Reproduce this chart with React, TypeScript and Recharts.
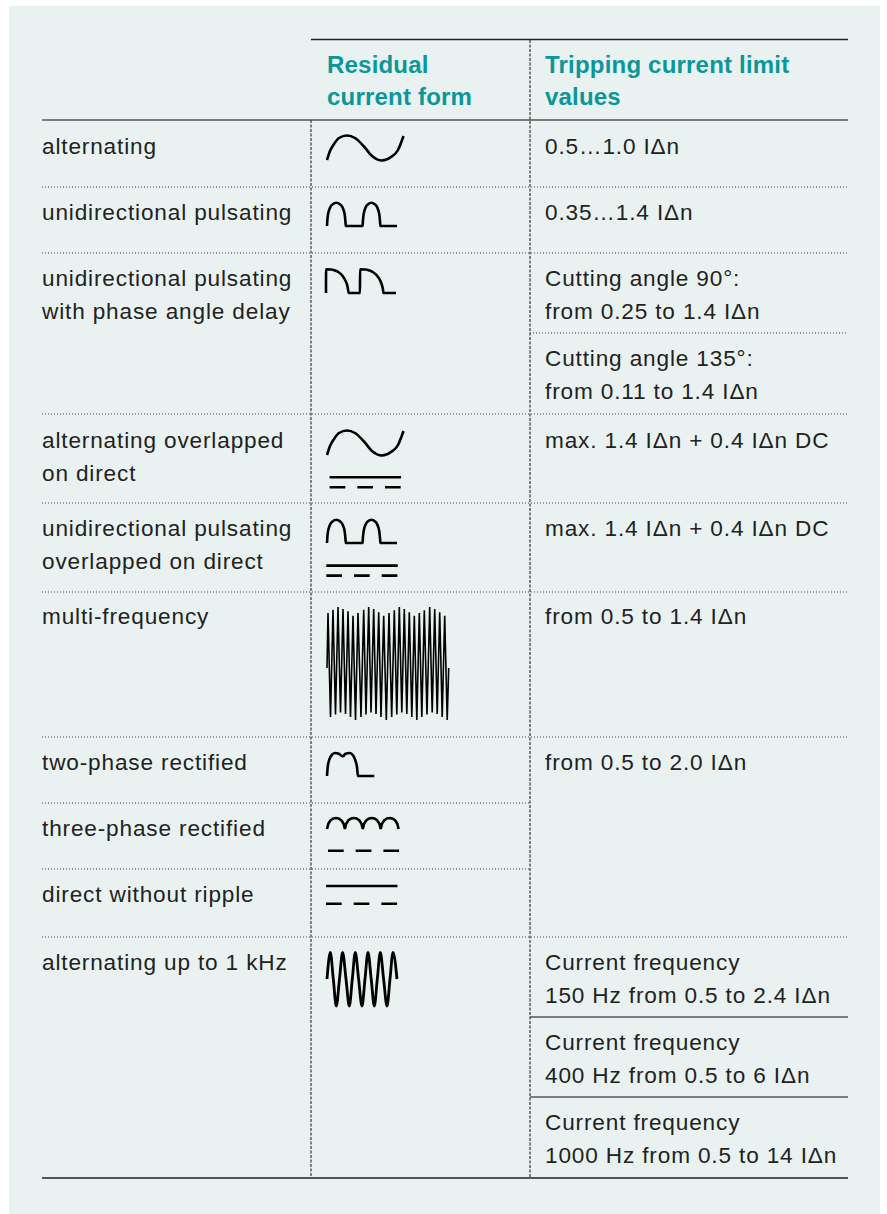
import React from "react";
import { LineChart, Line, XAxis, YAxis } from "recharts";

type Pt = { t: number; v: number };

// ---- table text ----
const formHeader = ["Residual", "current form"];
const limitHeader = ["Tripping current limit", "values"];

const formLabels = [
  ["alternating"],
  ["unidirectional pulsating"],
  ["unidirectional pulsating", "with phase angle delay"],
  ["alternating overlapped", "on direct"],
  ["unidirectional pulsating", "overlapped on direct"],
  ["multi-frequency"],
  ["two-phase rectified"],
  ["three-phase rectified"],
  ["direct without ripple"],
  ["alternating up to 1 kHz"],
];

const limitLabels = [
  ["0.5…1.0 IΔn"],
  ["0.35…1.4 IΔn"],
  ["Cutting angle 90°:", "from 0.25 to 1.4 IΔn"],
  ["Cutting angle 135°:", "from 0.11 to 1.4 IΔn"],
  ["max. 1.4 IΔn + 0.4 IΔn DC"],
  ["max. 1.4 IΔn + 0.4 IΔn DC"],
  ["from 0.5 to 1.4 IΔn"],
  ["from 0.5 to 2.0 IΔn"],
  ["Current frequency", "150 Hz from 0.5 to 2.4 IΔn"],
  ["Current frequency", "400 Hz from 0.5 to 6 IΔn"],
  ["Current frequency", "1000 Hz from 0.5 to 14 IΔn"],
];

// ---- waveform symbols (t = time in px, v = amplitude in px) ----
const sineWave: Pt[] = [
  { t: 0, v: -12 }, { t: 3, v: -3 }, { t: 7, v: 4 }, { t: 12, v: 10 },
  { t: 20, v: 12.5 }, { t: 28, v: 10 }, { t: 37, v: 1.5 }, { t: 45, v: -8 },
  { t: 55, v: -12.5 }, { t: 64, v: -9 }, { t: 71, v: -2 }, { t: 76.5, v: 12 },
];

const pulseWave: Pt[] = [
  { t: 0, v: 0 }, { t: 0.3, v: 5 }, { t: 1, v: 11.5 }, { t: 2.7, v: 17.5 },
  { t: 4.7, v: 20.8 }, { t: 9.3, v: 23.3 }, { t: 14, v: 20.8 }, { t: 16, v: 17.5 },
  { t: 17.7, v: 11.5 }, { t: 18.4, v: 5 }, { t: 18.8, v: 0 },
  { t: 35.6, v: 0 }, { t: 35.9, v: 5 }, { t: 36.6, v: 11.5 }, { t: 38.2, v: 17.5 },
  { t: 40, v: 20.8 }, { t: 44.4, v: 23.3 }, { t: 48.8, v: 20.8 }, { t: 50.7, v: 17.5 },
  { t: 52.3, v: 11.5 }, { t: 53, v: 5 }, { t: 53.4, v: 0 },
  { t: 70, v: 0 },
];

const phaseWave: Pt[] = [
  { t: 0, v: 0 }, { t: 0.05, v: 23.7 }, { t: 5, v: 23.5 }, { t: 9, v: 22.5 },
  { t: 12.3, v: 21 }, { t: 15, v: 18.8 }, { t: 17.3, v: 16 }, { t: 19.2, v: 12.8 },
  { t: 20.7, v: 9.3 }, { t: 21.8, v: 5 }, { t: 22.7, v: 0 },
  { t: 34, v: 0 }, { t: 34.05, v: 23.7 }, { t: 39.2, v: 23.5 }, { t: 43.4, v: 22.5 },
  { t: 46.8, v: 21 }, { t: 49.6, v: 18.8 }, { t: 52, v: 16 }, { t: 54, v: 12.8 },
  { t: 55.5, v: 9.3 }, { t: 56.7, v: 5 }, { t: 57.6, v: 0 },
  { t: 70, v: 0 },
];

const multiTimes = [
  0, 1, 3.5, 6, 8.5, 11, 13.5, 16, 18.5, 21, 23.5, 26, 28.5, 31, 34, 36.7, 39, 41.7,
  44, 46.7, 49, 51.7, 54, 56.7, 59.3, 62, 64.7, 67.3, 69.8, 72.3, 74.8, 77.3, 79.8,
  82.3, 84.8, 87.3, 89.8, 92.3, 94.8, 97.3, 100, 102.7, 105.2, 107.7, 110.2, 112.7,
  115.2, 117.7, 120.2, 121.7,
];
const multiValues = [
  0, 55, -49, 58.3, -46.5, 61, -44.5, 59, -46, 56.7, -49, 52.3, -52, 55, -49, 58.3,
  -46.5, 61, -44.5, 59, -46, 55.7, -49, 52.3, -52, 55, -49, 57.7, -46.5, 61, -44.5,
  59, -46, 55.7, -49, 52.3, -52, 55, -49, 57.7, -46.5, 61, -44.5, 59, -46, 55.7, -49,
  52.3, -52, 0,
];

const twoPhaseWave: Pt[] = [
  { t: 0, v: 0 }, { t: 0.7, v: 9 }, { t: 2.3, v: 16.3 }, { t: 5, v: 21.3 },
  { t: 8.3, v: 23 }, { t: 11.7, v: 22.3 }, { t: 16, v: 19.7 }, { t: 18.5, v: 22.3 },
  { t: 22.7, v: 23 }, { t: 26, v: 20.7 }, { t: 28.3, v: 15.7 }, { t: 30, v: 9 },
  { t: 31, v: 0 }, { t: 47.3, v: 0 },
];

const threePhaseWave: Pt[] = [
  { t: 0, v: 0 }, { t: 1.4, v: 5.5 }, { t: 3.6, v: 8.8 }, { t: 6.3, v: 10.6 },
  { t: 8.95, v: 11 }, { t: 11.6, v: 10.6 }, { t: 14.3, v: 8.8 }, { t: 16.5, v: 5.5 },
  { t: 17.9, v: 0 }, { t: 19.3, v: 5.5 }, { t: 21.5, v: 8.8 }, { t: 24.2, v: 10.6 },
  { t: 26.85, v: 11 }, { t: 29.5, v: 10.6 }, { t: 32.2, v: 8.8 }, { t: 34.4, v: 5.5 },
  { t: 35.8, v: 0 }, { t: 37.2, v: 5.5 }, { t: 39.4, v: 8.8 }, { t: 42.1, v: 10.6 },
  { t: 44.75, v: 11 }, { t: 47.4, v: 10.6 }, { t: 50.1, v: 8.8 }, { t: 52.3, v: 5.5 },
  { t: 53.7, v: 0 }, { t: 55.1, v: 5.5 }, { t: 57.3, v: 8.8 }, { t: 60, v: 10.6 },
  { t: 62.65, v: 11 }, { t: 65.3, v: 10.6 }, { t: 68, v: 8.8 }, { t: 70.2, v: 5.5 },
  { t: 71.6, v: 0 },
];

const kHzTimes = [
  0, 3.3, 6.3, 9.3, 12.5, 15.6, 19, 22.3, 25.3, 28.3, 31.6, 35, 38, 41, 44.2, 47.3,
  50.3, 53.3, 56.6, 60, 63, 66, 70,
];
const kHzValues = [
  0, 26.5, 0, -27, 0, 26.5, 0, -27, 0, 26.5, 0, -27, 0, 26.5, 0, -27, 0, 26.5, 0, -27,
  0, 26.5, 0,
];

const dcLine: Pt[] = [{ t: 0, v: 0 }, { t: 71.5, v: 0 }];

const multiWave: Pt[] = multiTimes.map((t, i) => ({ t, v: multiValues[i] }));
const kHzWave: Pt[] = kHzTimes.map((t, i) => ({ t, v: kHzValues[i] }));

// ---- layout ----
const FONT = "'Liberation Sans', Arial, Helvetica, sans-serif";
const TEXT = "#222";
const TEAL = "#0a979a";
const LINE_GAP = 33;
const COL1_X = 42;
const COL2_X = 327;
const COL3_X = 545;
const LEFT = 42;
const MID1 = 311;
const MID2 = 530;
const RIGHT = 848;

const formBaselines = [154, 220, 286, 448, 536, 624, 770, 836, 902, 970];
const limitBaselines = [154, 220, 286, 366, 448, 536, 624, 770, 970, 1050, 1130];

const dottedFull = [187, 253, 414, 503, 592, 737, 937];
const dottedLeft = [803, 869];
const dottedRight = [333];
const solidRight = [1017, 1097];

type Part = { data: Pt[]; curve?: "monotone" | "linear"; w?: number; dash?: string; dx?: number; dy?: number };
type Icon = { x0: number; y0: number; parts: Part[] };

const DASH = "15.7 12";

const icons: Icon[] = [
  { x0: 326.7, y0: 148.3, parts: [{ data: sineWave }] },
  { x0: 326.7, y0: 226, parts: [{ data: pulseWave }] },
  { x0: 326, y0: 293, parts: [{ data: phaseWave }] },
  {
    x0: 326.7,
    y0: 442.8,
    parts: [
      { data: sineWave },
      { data: dcLine, dx: 2.6, dy: -34.2 },
      { data: dcLine, dx: 2.6, dy: -44.2, dash: DASH },
    ],
  },
  {
    x0: 326.7,
    y0: 542.7,
    parts: [
      { data: pulseWave },
      { data: dcLine, dx: -0.7, dy: -22.6 },
      { data: dcLine, dx: -0.7, dy: -32.6, dash: DASH },
    ],
  },
  { x0: 326.7, y0: 668, parts: [{ data: multiWave, curve: "linear", w: 1.6 }] },
  { x0: 326.7, y0: 775.7, parts: [{ data: twoPhaseWave }] },
  {
    x0: 326.7,
    y0: 829.3,
    parts: [
      { data: threePhaseWave, curve: "linear" },
      { data: dcLine, dx: 1, dy: -21.7, dash: DASH },
    ],
  },
  {
    x0: 326,
    y0: 886,
    parts: [
      { data: dcLine },
      { data: dcLine, dy: -17.7, dash: DASH },
    ],
  },
  { x0: 326.7, y0: 979.3, parts: [{ data: kHzWave, w: 2.8 }] },
];

const BOX_W = 150;
const BOX_H = 140;
const PAD_X = 10;
const PAD_Y = 70;

const Symbol = ({ icon }: { icon: Icon }) => (
  <div style={{ position: "absolute", left: icon.x0 - PAD_X, top: icon.y0 - PAD_Y, width: BOX_W, height: BOX_H }}>
    <LineChart width={BOX_W} height={BOX_H} margin={{ top: 0, right: 0, bottom: 0, left: 0 }}>
      <XAxis type="number" dataKey="t" domain={[-PAD_X, BOX_W - PAD_X]} hide allowDataOverflow />
      <YAxis type="number" dataKey="v" domain={[PAD_Y - BOX_H, PAD_Y]} hide allowDataOverflow />
      {icon.parts.map((p, i) => (
        <Line
          key={i}
          data={p.data.map((d) => ({ t: d.t + (p.dx || 0), v: d.v + (p.dy || 0) }))}
          dataKey="v"
          type={p.curve || "monotone"}
          stroke="#000"
          strokeWidth={p.w || 2.6}
          strokeDasharray={p.dash}
          dot={false}
          activeDot={false}
          isAnimationActive={false}
        />
      ))}
    </LineChart>
  </div>
);

const TextBlock = ({ lines, x, y, bold }: { lines: string[]; x: number; y: number; bold?: boolean }) => (
  <>
    {lines.map((s, i) => (
      <text
        key={i}
        x={x}
        y={y + i * (bold ? 31.8 : LINE_GAP)}
        fontFamily={FONT}
        fontSize={bold ? 24 : 22.6}
        fontWeight={bold ? 700 : 400}
        letterSpacing={bold ? 0.2 : 0.85}
        fill={bold ? TEAL : TEXT}
      >
        {s}
      </text>
    ))}
  </>
);

const App = () => {
  return (
    <div style={{ position: "absolute", left: 0, top: 0, width: 887, height: 1214, background: "#fff" }}>
      <svg width={887} height={1214} style={{ position: "absolute", left: 0, top: 0 }}>
        <rect x={9} y={6} width={871} height={1208} fill="#e9f2f1" />
        {/* header rules */}
        <line x1={MID1} x2={RIGHT} y1={39.5} y2={39.5} stroke="#222" strokeWidth={1.3} />
        <line x1={LEFT} x2={RIGHT} y1={120} y2={120} stroke="#555" strokeWidth={1.5} />
        <line x1={LEFT} x2={RIGHT} y1={1178} y2={1178} stroke="#222" strokeWidth={1.5} />
        {/* column dividers */}
        <line x1={MID1} x2={MID1} y1={120} y2={1178} stroke="#444" strokeWidth={1.3} strokeDasharray="3 1.5" />
        <line x1={MID2} x2={MID2} y1={40} y2={1178} stroke="#444" strokeWidth={1.3} strokeDasharray="3 1.5" />
        {/* row rules */}
        {dottedFull.map((y) => (
          <line key={`f${y}`} x1={LEFT} x2={RIGHT} y1={y} y2={y} stroke="#444" strokeWidth={1} strokeDasharray="1 2" />
        ))}
        {dottedLeft.map((y) => (
          <line key={`l${y}`} x1={LEFT} x2={MID2} y1={y} y2={y} stroke="#444" strokeWidth={1} strokeDasharray="1 2" />
        ))}
        {dottedRight.map((y) => (
          <line key={`r${y}`} x1={MID2} x2={RIGHT} y1={y} y2={y} stroke="#444" strokeWidth={1} strokeDasharray="1 2" />
        ))}
        {solidRight.map((y) => (
          <line key={`s${y}`} x1={MID2} x2={RIGHT} y1={y} y2={y} stroke="#555" strokeWidth={1.3} />
        ))}
        {/* header text */}
        <TextBlock lines={formHeader} x={COL2_X} y={72.7} bold />
        <TextBlock lines={limitHeader} x={COL3_X} y={72.7} bold />
        {formLabels.map((l, i) => (
          <TextBlock key={`a${i}`} lines={l} x={COL1_X} y={formBaselines[i]} />
        ))}
        {limitLabels.map((l, i) => (
          <TextBlock key={`b${i}`} lines={l} x={COL3_X} y={limitBaselines[i]} />
        ))}
      </svg>
      {icons.map((ic, i) => (
        <Symbol key={i} icon={ic} />
      ))}
    </div>
  );
};

export default App;
